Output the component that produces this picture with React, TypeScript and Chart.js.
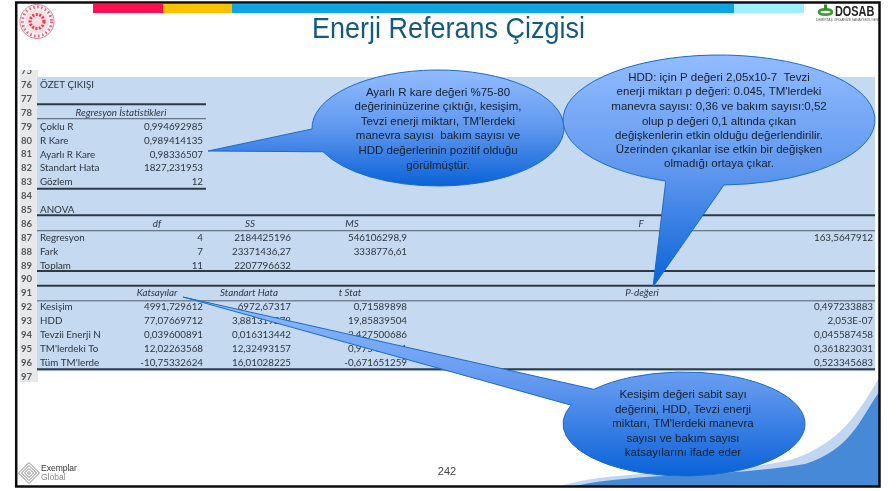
import React, { useEffect, useRef } from "react";
import { Chart, registerables } from "chart.js";

Chart.register(...registerables);

const title = "Enerji Referans Çizgisi";
const pageNumber = "242";

const rowNumbers = [75, 76, 77, 78, 79, 80, 81, 82, 83, 84, 85, 86, 87, 88, 89, 90, 91, 92, 93, 94, 95, 96, 97];

const regressionLabels = ["Çoklu R", "R Kare", "Ayarlı R Kare", "Standart Hata", "Gözlem"];
const regressionValues = ["0,994692985", "0,989414135", "0,98336507", "1827,231953", "12"];

const anovaHeaders = ["df", "SS", "MS", "F"];
const anovaLabels = ["Regresyon", "Fark", "Toplam"];
const anovaDf = ["4", "7", "11"];
const anovaSS = ["2184425196", "23371436,27", "2207796632"];
const anovaMS = ["546106298,9", "3338776,61", ""];
const anovaF = ["163,5647912", "", ""];

const coefHeaders = ["Katsayılar", "Standart Hata", "t Stat", "P-değeri"];
const coefLabels = ["Kesişim", "HDD", "Tevzii Enerji N", "TM'lerdeki To", "Tüm TM'lerde"];
const coefValues = ["4991,729612", "77,07669712", "0,039600891", "12,02263568", "-10,75332624"];
const coefStdErr = ["6972,67317", "3,881319278", "0,016313442", "12,32493157", "16,01028225"];
const coefT = ["0,71589898", "19,85839504", "2,427500686", "0,975473241", "-0,671651259"];
const coefP = ["0,497233883", "2,053E-07", "0,045587458", "0,361823031", "0,523345683"];

const callout1 = [
  "Ayarlı R kare değeri %75-80",
  "değerininüzerine çıktığı, kesişim,",
  "Tevzi enerji miktarı, TM'lerdeki",
  "manevra sayısı  bakım sayısı ve",
  "HDD değerlerinin pozitif olduğu",
  "görülmüştür.",
];
const callout2 = [
  "HDD: için P değeri 2,05x10-7  Tevzi",
  "enerji miktarı p değeri: 0.045, TM'lerdeki",
  "manevra sayısı: 0,36 ve bakım sayısı:0,52",
  "olup p değeri 0,1 altında çıkan",
  "değişkenlerin etkin olduğu değerlendirilir.",
  "Üzerinden çıkanlar ise etkin bir değişken",
  "olmadığı ortaya çıkar.",
];
const callout3 = [
  "Kesişim değeri sabit sayı",
  "değerini, HDD, Tevzi enerji",
  "miktarı, TM'lerdeki manevra",
  "sayısı ve bakım sayısı",
  "katsayılarını ifade eder",
];

// horizontal table rules: row position on the sheet, weight
const summaryRules = [77.39, 78.43, 83.47];
const summaryRuleWeights = [2, 1, 2];
const wideRules = [85.38, 86.5, 89.4, 90.47, 91.55, 96.47];
const wideRuleWeights = [2, 1, 2, 2, 1, 2];

const COL = { rowNo: 21, label: 40, b: 203, c: 291, d: 407, e: 642, f: 873, left: 37, summaryEnd: 206, right: 875 };
const RIGHT = "right", LEFT = "left", CENTER = "center";

type Cell = { x: number; y: number; text: string; align: string; italic?: boolean; rowNo?: boolean };

function buildCells(): Cell[] {
  const cells: Cell[] = [];
  const add = (x: number, y: number, text: string, align: string, italic = false) => {
    if (text) cells.push({ x, y, text, align, italic });
  };
  rowNumbers.forEach((r) => cells.push({ x: COL.rowNo, y: r, text: String(r), align: LEFT, rowNo: true }));
  add(COL.label, 76, "ÖZET ÇIKIŞI", LEFT);
  add(121, 78, "Regresyon İstatistikleri", CENTER, true);
  regressionLabels.forEach((t, i) => {
    add(COL.label, 79 + i, t, LEFT);
    add(COL.b, 79 + i, regressionValues[i], RIGHT);
  });
  add(COL.label, 85, "ANOVA", LEFT);
  [157, 250, 352, 641].forEach((x, i) => add(x, 86, anovaHeaders[i], CENTER, true));
  anovaLabels.forEach((t, i) => {
    add(COL.label, 87 + i, t, LEFT);
    add(COL.b, 87 + i, anovaDf[i], RIGHT);
    add(COL.c, 87 + i, anovaSS[i], RIGHT);
    add(COL.d, 87 + i, anovaMS[i], RIGHT);
    add(COL.f, 87 + i, anovaF[i], RIGHT);
  });
  [157, 249, 350, COL.e].forEach((x, i) => add(x, 91, coefHeaders[i], CENTER, true));
  coefLabels.forEach((t, i) => {
    add(COL.label, 92 + i, t, LEFT);
    add(COL.b, 92 + i, coefValues[i], RIGHT);
    add(COL.c, 92 + i, coefStdErr[i], RIGHT);
    add(COL.d, 92 + i, coefT[i], RIGHT);
    add(COL.f, 92 + i, coefP[i], RIGHT);
  });
  return cells;
}

function ruleDataset(row: number, x0: number, x1: number, weight: number) {
  return {
    type: "scatter" as const,
    data: [{ x: x0, y: row }, { x: x1, y: row }],
    showLine: true,
    borderColor: weight > 1 ? "#2c3a48" : "#4e5c6a",
    borderWidth: weight,
    pointRadius: 0,
  };
}

// the ellipse outline runs clockwise on screen from `start` to `end`, then out to the tail tip
function drawCallout(
  ctx: CanvasRenderingContext2D,
  cx: number, cy: number, rx: number, ry: number,
  tip: [number, number], start: [number, number], end: [number, number],
  gradTop: number, gradBottom: number,
  lines: string[], textX: number, textY: number[], font: string
) {
  const a1 = Math.atan2((start[1] - cy) / ry, (start[0] - cx) / rx);
  let a2 = Math.atan2((end[1] - cy) / ry, (end[0] - cx) / rx);
  if (a2 < a1) a2 += Math.PI * 2;
  const g = ctx.createLinearGradient(0, gradTop, 0, gradBottom);
  g.addColorStop(0, "#93bcff");
  g.addColorStop(0.5, "#5f97ee");
  g.addColorStop(1, "#0a62d8");
  ctx.beginPath();
  ctx.ellipse(cx, cy, rx, ry, 0, a1, a2);
  ctx.lineTo(tip[0], tip[1]);
  ctx.closePath();
  ctx.fillStyle = g;
  ctx.fill();
  ctx.strokeStyle = "#1a6cc6";
  ctx.lineWidth = 1;
  ctx.stroke();
  ctx.fillStyle = "#12202e";
  ctx.font = font;
  ctx.textAlign = "center";
  ctx.textBaseline = "middle";
  lines.forEach((l, i) => ctx.fillText(l, textX, textY[i]));
}

const slidePlugin = {
  id: "slide",
  beforeDatasetsDraw(chart: any) {
    const { ctx, scales } = chart;
    const y = scales.y;
    const x = scales.x;
    ctx.save();
    ctx.fillStyle = "#ffffff";
    ctx.fillRect(0, 0, 896, 491);

    // sheet band and row-number gutter
    const bandTop = y.getPixelForValue(75.42);
    const bandBottom = y.getPixelForValue(96.62);
    ctx.fillStyle = "#e6e8ea";
    ctx.fillRect(20, 70, 18, 312);
    ctx.fillStyle = "#c5d9f0";
    ctx.fillRect(x.getPixelForValue(COL.left), bandTop, x.getPixelForValue(COL.right) - x.getPixelForValue(COL.left), bandBottom - bandTop);

    // colored strip
    [["#ff0f50", 93, 163], ["#ffc000", 163, 232], ["#0ea5e6", 232, 734], ["#9ff0ff", 734, 804]].forEach(([c, a, b]: any) => {
      ctx.fillStyle = c;
      ctx.fillRect(a, 4, b - a, 9);
    });

    // wave bottom right
    ctx.fillStyle = "#c1d7f1";
    ctx.beginPath();
    ctx.moveTo(879, 378);
    ctx.bezierCurveTo(860, 410, 840, 445, 790, 460);
    ctx.bezierCurveTo(720, 476, 620, 468, 560, 486);
    ctx.lineTo(879, 486);
    ctx.closePath();
    ctx.fill();
    ctx.fillStyle = "#4689d6";
    ctx.beginPath();
    ctx.moveTo(879, 392);
    ctx.bezierCurveTo(860, 420, 850, 450, 805, 464);
    ctx.bezierCurveTo(720, 478, 640, 472, 575, 486);
    ctx.lineTo(879, 486);
    ctx.closePath();
    ctx.fill();

    // title
    ctx.save();
    ctx.fillStyle = "#155a7c";
    ctx.font = "29px 'Liberation Sans'";
    ctx.textAlign = "center";
    ctx.textBaseline = "middle";
    ctx.translate(448.5, 30);
    ctx.scale(0.93, 1);
    ctx.fillText(title, 0, 0);
    ctx.restore();

    // emblem
    ctx.save();
    ctx.filter = "blur(0.5px)";
    ctx.strokeStyle = "#e8607a";
    ctx.lineWidth = 3;
    ctx.setLineDash([1.6, 2.4]);
    ctx.beginPath();
    ctx.arc(37, 21.5, 14.5, 0, Math.PI * 2);
    ctx.stroke();
    ctx.setLineDash([]);
    ctx.lineWidth = 0.8;
    ctx.beginPath();
    ctx.arc(37, 21.5, 17, 0, Math.PI * 2);
    ctx.stroke();
    ctx.fillStyle = "#fbdde2";
    ctx.beginPath();
    ctx.arc(37, 21.5, 12, 0, Math.PI * 2);
    ctx.fill();
    ctx.strokeStyle = "#e33b57";
    ctx.lineWidth = 3;
    ctx.setLineDash([2, 1.5]);
    ctx.beginPath();
    ctx.arc(37, 21.5, 7, 0, Math.PI * 2);
    ctx.stroke();
    ctx.setLineDash([]);
    ctx.restore();

    // DOSAB logo
    ctx.save();
    ctx.filter = "blur(0.4px)";
    ctx.strokeStyle = "#3f9a35";
    ctx.lineWidth = 2.6;
    ctx.beginPath();
    ctx.ellipse(825.5, 12, 6.5, 2.6, 0, 0, Math.PI * 2);
    ctx.stroke();
    ctx.fillStyle = "#2f8a2c";
    ctx.fillRect(824, 4.5, 3, 5);
    ctx.fillStyle = "#222";
    ctx.font = "bold 14.5px 'Liberation Sans'";
    ctx.textAlign = "left";
    ctx.textBaseline = "middle";
    ctx.translate(835, 12);
    ctx.scale(0.75, 1);
    ctx.fillText("DOSAB", 0, 0);
    ctx.restore();
    ctx.save();
    ctx.filter = "blur(0.3px)";
    ctx.font = "3.3px 'Liberation Sans'";
    ctx.fillStyle = "#555";
    ctx.textAlign = "left";
    ctx.textBaseline = "middle";
    ctx.fillText("DEMİRTAŞ ORGANİZE SANAYİ BÖLGESİ", 816, 20.5);
    ctx.restore();

    // footer
    ctx.strokeStyle = "#8a8a8a";
    ctx.lineWidth = 1;
    [10.5, 7.5, 4.5, 1.5].forEach((r) => {
      ctx.beginPath();
      ctx.moveTo(29 - r, 473);
      ctx.lineTo(29, 473 - r);
      ctx.lineTo(29 + r, 473);
      ctx.lineTo(29, 473 + r);
      ctx.closePath();
      ctx.stroke();
    });
    ctx.fillStyle = "#333";
    ctx.font = "8.5px 'Liberation Sans'";
    ctx.textAlign = "left";
    ctx.textBaseline = "middle";
    ctx.fillText("Exemplar", 41, 469);
    ctx.fillStyle = "#888";
    ctx.fillText("Global", 41, 478);
    ctx.fillStyle = "#444";
    ctx.font = "11px 'Liberation Sans'";
    ctx.textAlign = "center";
    ctx.fillText(pageNumber, 447, 472);
    ctx.restore();
  },
  afterDatasetsDraw(chart: any) {
    const { ctx } = chart;
    ctx.save();
    const meta = chart.getDatasetMeta(0);
    const cells: Cell[] = chart.data.datasets[0].data;
    ctx.save();
    ctx.beginPath();
    ctx.rect(0, 70, 896, 421);
    ctx.clip();
    ctx.filter = "blur(0.55px)";
    ctx.textBaseline = "middle";
    meta.data.forEach((pt: any, i: number) => {
      const c = cells[i];
      ctx.textAlign = c.align;
      ctx.fillStyle = c.rowNo ? "#555555" : "#2c3640";
      ctx.font = c.rowNo
        ? "bold 9.5px Lato"
        : `${c.italic ? "italic " : ""}9.8px Lato`;
      ctx.fillText(c.text, pt.x, pt.y);
    });
    ctx.restore();

    const font = "11.5px 'Liberation Sans'";
    drawCallout(ctx, 438, 128, 126, 58, [208, 151], [312, 129], [322, 152], 70, 186, callout1, 438, [93, 107, 122, 136, 151, 166], font);
    drawCallout(ctx, 719, 120, 156, 65, [653, 287], [665, 182], [724, 186], 55, 287, callout2, 719, [78, 92, 107, 122, 136, 150, 164], font);
    drawCallout(ctx, 684, 424, 121, 52, [183, 297], [593, 389], [570, 405], 297, 476, callout3, 683, [395, 410, 424, 439, 453], font);

    // slide frame
    ctx.strokeStyle = "#0c0c0c";
    ctx.lineWidth = 2.5;
    ctx.strokeRect(16.2, 2.5, 863.3, 484);
    ctx.restore();
  },
};

export default function App() {
  const ref = useRef<HTMLCanvasElement>(null);
  useEffect(() => {
    const chart = new Chart(ref.current!, {
      type: "scatter",
      data: {
        datasets: [
          { data: buildCells() as any, pointRadius: 0, showLine: false },
          ...summaryRules.map((r, i) => ruleDataset(r, COL.left, COL.summaryEnd, summaryRuleWeights[i])),
          ...wideRules.map((r, i) => ruleDataset(r, COL.left, COL.right, wideRuleWeights[i])),
        ],
      },
      options: {
        responsive: false,
        animation: false,
        layout: { padding: 0 },
        plugins: { legend: { display: false }, tooltip: { enabled: false } },
        scales: {
          x: { type: "linear", display: false, min: 0, max: 896 },
          y: { type: "linear", display: false, reverse: true, min: 69.876, max: 105.25 },
        },
      },
      plugins: [slidePlugin],
    } as any);
    return () => chart.destroy();
  }, []);
  return (
    <div style={{ position: "fixed", left: 0, top: 0, width: 896, height: 491, background: "#fff" }}>
      <canvas ref={ref} width={896} height={491} style={{ display: "block" }} />
    </div>
  );
}
